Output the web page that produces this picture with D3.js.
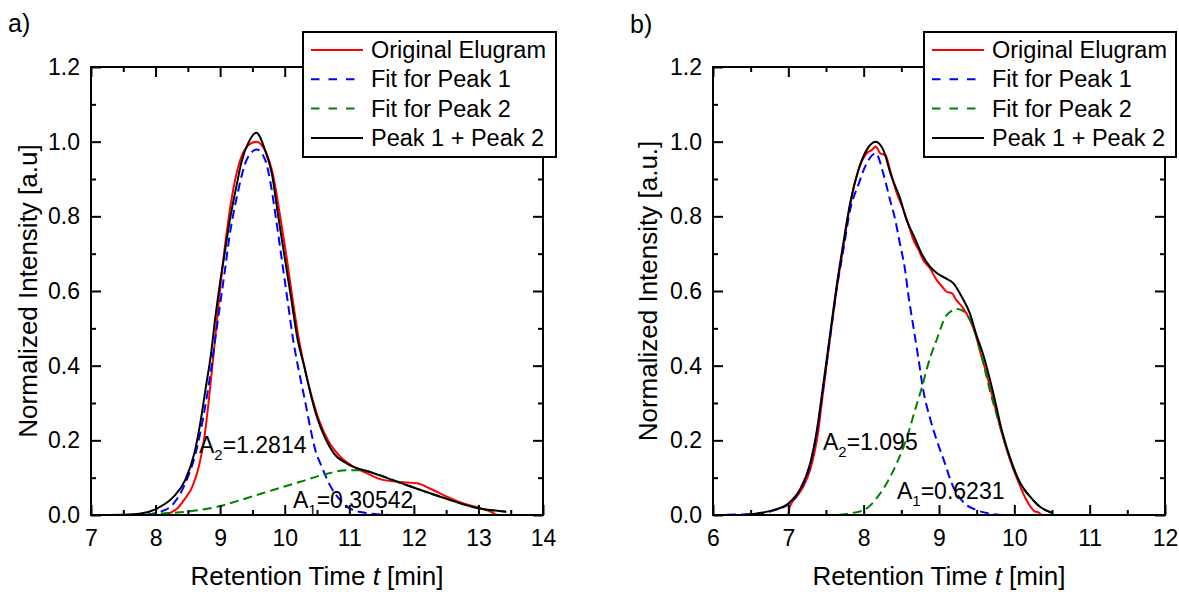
<!DOCTYPE html>
<html>
<head>
<meta charset="utf-8">
<script src="https://cdn.jsdelivr.net/npm/d3@7"></script>
<style>
  html, body { margin: 0; padding: 0; background: #fff; }
  svg { display: block; font-family: "Liberation Sans", Arial, sans-serif; }
</style>
</head>
<body>
<svg id="chart" width="1179" height="592"></svg>
<script>
// ---------------- DATA ----------------
// Panel a) : [retention time (min), normalized intensity]
const aOriginal = [[7.95,0],[8.13,0],[8.23,0.006],[8.34,0.018],[8.44,0.040],[8.57,0.076],[8.67,0.129],[8.75,0.201],[8.82,0.30],[8.88,0.40],[8.95,0.52],[9.02,0.64],[9.10,0.755],[9.19,0.86],[9.30,0.945],[9.43,0.99],[9.56,1.0],[9.70,0.975],[9.82,0.91],[9.93,0.80],[10.03,0.69],[10.12,0.58],[10.22,0.47],[10.32,0.385],[10.43,0.31],[10.54,0.25],[10.67,0.20],[10.86,0.156],[11.07,0.129],[11.27,0.112],[11.48,0.096],[11.74,0.089],[12.05,0.085],[12.25,0.071],[12.51,0.049],[12.77,0.031],[13.0,0.020],[13.2,0.008],[13.3,0],[13.45,0]];
const aPeak1 = [[7.0,0],[7.77,0],[8.08,0.009],[8.28,0.031],[8.46,0.085],[8.62,0.165],[8.75,0.272],[8.85,0.379],[8.95,0.504],[9.06,0.638],[9.16,0.763],[9.26,0.853],[9.42,0.955],[9.57,0.979],[9.70,0.95],[9.78,0.89],[9.86,0.80],[9.95,0.69],[10.04,0.58],[10.13,0.47],[10.22,0.385],[10.31,0.31],[10.40,0.23],[10.48,0.17],[10.56,0.135],[10.70,0.08],[10.86,0.040],[11.06,0.013],[11.38,0.003],[11.69,0],[13.45,0]];
const aPeak2 = [[7.0,0],[7.8,0],[8.0,0.003],[8.49,0.009],[8.95,0.022],[9.41,0.045],[9.82,0.067],[10.24,0.089],[10.6,0.108],[10.96,0.12],[11.2,0.12],[11.38,0.112],[11.89,0.080],[12.41,0.049],[13.0,0.018],[13.43,0.009]];
const aSum = [[7.0,0],[7.5,0.001],[7.77,0.004],[8.03,0.018],[8.28,0.049],[8.46,0.094],[8.60,0.165],[8.70,0.254],[8.78,0.344],[8.86,0.433],[8.92,0.522],[8.99,0.612],[9.07,0.701],[9.15,0.790],[9.25,0.879],[9.33,0.945],[9.44,0.998],[9.56,1.024],[9.70,0.975],[9.80,0.915],[9.90,0.80],[10.0,0.69],[10.1,0.58],[10.2,0.47],[10.3,0.40],[10.4,0.325],[10.5,0.262],[10.63,0.205],[10.76,0.165],[10.96,0.138],[11.38,0.112],[11.89,0.080],[12.41,0.049],[13.0,0.018],[13.43,0.009]];

// Panel b)
const bOriginal = [[7.0,0],[7.02,0.022],[7.11,0.049],[7.2,0.076],[7.29,0.121],[7.38,0.201],[7.46,0.326],[7.55,0.469],[7.64,0.603],[7.73,0.719],[7.82,0.830],[7.93,0.924],[8.04,0.969],[8.11,0.978],[8.16,0.987],[8.22,0.969],[8.29,0.964],[8.35,0.924],[8.44,0.862],[8.53,0.817],[8.59,0.781],[8.66,0.737],[8.73,0.71],[8.79,0.683],[8.88,0.661],[8.97,0.629],[9.04,0.612],[9.10,0.598],[9.17,0.594],[9.23,0.576],[9.32,0.554],[9.41,0.522],[9.48,0.487],[9.54,0.442],[9.63,0.379],[9.72,0.308],[9.81,0.237],[9.90,0.174],[9.99,0.121],[10.08,0.076],[10.16,0.040],[10.23,0.018],[10.27,0.01],[10.32,0.007],[10.36,0]];
const bPeak1 = [[6.0,0],[6.58,0.003],[6.80,0.012],[7.0,0.029],[7.15,0.065],[7.29,0.134],[7.38,0.223],[7.46,0.335],[7.55,0.469],[7.64,0.603],[7.73,0.71],[7.82,0.817],[7.93,0.885],[8.04,0.942],[8.16,0.969],[8.26,0.915],[8.35,0.844],[8.42,0.79],[8.48,0.728],[8.55,0.656],[8.59,0.594],[8.66,0.504],[8.73,0.415],[8.79,0.335],[8.88,0.26],[8.97,0.2],[9.05,0.155],[9.19,0.075],[9.32,0.035],[9.5,0.013],[9.7,0.003],[9.85,0],[10.5,0]];
const bPeak2 = [[6.0,0],[7.6,0],[7.8,0.004],[8.0,0.013],[8.22,0.058],[8.44,0.139],[8.57,0.205],[8.68,0.28],[8.77,0.34],[8.88,0.42],[8.97,0.47],[9.1,0.535],[9.25,0.552],[9.41,0.525],[9.54,0.445],[9.68,0.33],[9.83,0.225],[9.94,0.152],[10.08,0.084],[10.21,0.048],[10.34,0.022],[10.5,0.006]];
const bSum = [[6.0,0],[6.36,0],[6.58,0.004],[6.80,0.013],[7.0,0.031],[7.15,0.067],[7.29,0.138],[7.38,0.228],[7.46,0.344],[7.55,0.478],[7.64,0.612],[7.73,0.728],[7.82,0.835],[7.93,0.924],[8.04,0.978],[8.16,1.0],[8.26,0.978],[8.37,0.906],[8.48,0.85],[8.57,0.79],[8.66,0.75],[8.77,0.70],[8.88,0.665],[8.97,0.648],[9.08,0.635],[9.19,0.621],[9.30,0.585],[9.41,0.54],[9.50,0.48],[9.58,0.434],[9.72,0.327],[9.83,0.23],[9.94,0.155],[10.08,0.085],[10.21,0.049],[10.34,0.022],[10.5,0.006]];

// Axes / ticks / labels
const aXDomain = [7, 14];
const bXDomain = [6, 12];
const yDomain = [0, 1.2];
const aXTicks = [7, 8, 9, 10, 11, 12, 13, 14];
const bXTicks = [6, 7, 8, 9, 10, 11, 12];
const yTicks = [0, 0.2, 0.4, 0.6, 0.8, 1.0, 1.2];
const legendLabels = ["Original Elugram", "Fit for Peak 1", "Fit for Peak 2", "Peak 1 + Peak 2"];
const xTitle = "Retention Time ";
const aYTitle = "Normalized Intensity [a.u]";
const bYTitle = "Normalized Intensity [a.u.]";
const aAreas = { a2: "1.2814", a1: "0.30542" };
const bAreas = { a2: "1.095", a1: "0.6231" };

// ---------------- DRAW ----------------
const svg = d3.select("#chart");
const FONT = "'Liberation Sans', Arial, sans-serif";

const seriesStyle = [
  { color: "#ff0000", dash: null, legendDash: null },
  { color: "#0000ff", dash: "9,5", legendDash: "8.5,9" },
  { color: "#008000", dash: "9,5", legendDash: "8.5,9" },
  { color: "#000000", dash: null, legendDash: null }
];

function range(a, b, step) {
  const out = [];
  for (let v = a; v <= b + 1e-9; v += step) out.push(+v.toFixed(4));
  return out;
}

function drawPanel(cfg) {
  const { left, top, width, height, xDomain, xTicks, series, yTitle, yTitleX,
          panelLabel, labelPos, legend, areas } = cfg;
  const g = svg.append("g");
  const x = d3.scaleLinear().domain(xDomain).range([left, left + width]);
  const y = d3.scaleLinear().domain(yDomain).range([top + height, top]);

  // curves
  const line = d3.line().x(d => x(d[0])).y(d => y(d[1])).curve(d3.curveMonotoneX);
  const clipId = "clip" + left;
  svg.append("clipPath").attr("id", clipId).append("rect")
    .attr("x", left).attr("y", top).attr("width", width).attr("height", height);
  [0, 1, 2, 3].forEach(i => {
    g.append("path").datum(series[i])
      .attr("clip-path", `url(#${clipId})`)
      .attr("d", line)
      .attr("fill", "none")
      .attr("stroke", seriesStyle[i].color)
      .attr("stroke-width", 2)
      .attr("stroke-dasharray", seriesStyle[i].dash);
  });

  // minor ticks
  const xMinor = range(xDomain[0], xDomain[1], 0.5).filter(v => !xTicks.includes(v));
  const yMinor = range(0, 1.2, 0.1).filter(v => !yTicks.some(t => Math.abs(t - v) < 1e-6));

  function styleAxis(sel) {
    sel.select(".domain").remove();
    sel.selectAll(".tick line").attr("stroke", "#000").attr("stroke-width", 2);
    sel.selectAll("text").attr("font-family", FONT).attr("font-size", 23).attr("fill", "#000");
  }

  // bottom
  g.append("g").attr("transform", `translate(0,${top + height})`)
    .call(d3.axisBottom(x).tickValues(xTicks).tickSize(-10).tickPadding(15).tickFormat(d3.format("d")))
    .call(styleAxis);
  g.append("g").attr("transform", `translate(0,${top + height})`)
    .call(d3.axisBottom(x).tickValues(xMinor).tickSize(-5).tickFormat(""))
    .call(styleAxis);
  // top
  g.append("g").attr("transform", `translate(0,${top})`)
    .call(d3.axisTop(x).tickValues(xTicks).tickSize(-10).tickFormat(""))
    .call(styleAxis);
  g.append("g").attr("transform", `translate(0,${top})`)
    .call(d3.axisTop(x).tickValues(xMinor).tickSize(-5).tickFormat(""))
    .call(styleAxis);
  // left
  g.append("g").attr("transform", `translate(${left},0)`)
    .call(d3.axisLeft(y).tickValues(yTicks).tickSize(-10).tickPadding(11).tickFormat(d3.format(".1f")))
    .call(styleAxis);
  g.append("g").attr("transform", `translate(${left},0)`)
    .call(d3.axisLeft(y).tickValues(yMinor).tickSize(-5).tickFormat(""))
    .call(styleAxis);
  // right
  g.append("g").attr("transform", `translate(${left + width},0)`)
    .call(d3.axisRight(y).tickValues(yTicks).tickSize(-10).tickFormat(""))
    .call(styleAxis);
  g.append("g").attr("transform", `translate(${left + width},0)`)
    .call(d3.axisRight(y).tickValues(yMinor).tickSize(-5).tickFormat(""))
    .call(styleAxis);

  // frame
  g.append("rect").attr("x", left).attr("y", top).attr("width", width).attr("height", height)
    .attr("fill", "none").attr("stroke", "#000").attr("stroke-width", 2);

  // axis titles
  const xt = g.append("text").attr("x", left + width / 2).attr("y", 585)
    .attr("text-anchor", "middle").attr("font-family", FONT).attr("font-size", 26);
  xt.append("tspan").text(xTitle);
  xt.append("tspan").attr("font-style", "italic").text("t");
  xt.append("tspan").text(" [min]");

  g.append("text")
    .attr("transform", `translate(${yTitleX},${top + height / 2}) rotate(-90)`)
    .attr("text-anchor", "middle").attr("font-family", FONT).attr("font-size", 26)
    .text(yTitle);

  // panel label
  g.append("text").attr("x", labelPos[0]).attr("y", labelPos[1])
    .attr("font-family", FONT).attr("font-size", 25).text(panelLabel);

  // area annotations
  function areaLabel(px, py, sub, val) {
    const t = g.append("text").attr("x", px).attr("y", py)
      .attr("font-family", FONT).attr("font-size", 23);
    t.append("tspan").text("A");
    t.append("tspan").attr("font-size", 15).attr("dy", 7).text(sub);
    t.append("tspan").attr("dy", -7).text("=" + val);
  }
  areaLabel(areas.a2pos[0], areas.a2pos[1], "2", areas.a2);
  areaLabel(areas.a1pos[0], areas.a1pos[1], "1", areas.a1);

  // legend
  const lg = g.append("g");
  lg.append("rect").attr("x", legend.x).attr("y", legend.y).attr("width", legend.w).attr("height", legend.h)
    .attr("fill", "#fff").attr("stroke", "#000").attr("stroke-width", 2);
  legendLabels.forEach((lab, i) => {
    const cy = legend.y + 18 + i * 29.3;
    lg.append("line").attr("x1", legend.x + 8).attr("x2", legend.x + 60)
      .attr("y1", cy).attr("y2", cy)
      .attr("stroke", seriesStyle[i].color).attr("stroke-width", 2)
      .attr("stroke-dasharray", seriesStyle[i].legendDash);
    lg.append("text").attr("x", legend.x + 68).attr("y", cy + 8)
      .attr("font-family", FONT).attr("font-size", 23.5).text(lab);
  });
}

drawPanel({
  left: 91, top: 67, width: 452, height: 448,
  xDomain: aXDomain, xTicks: aXTicks,
  series: [aOriginal, aPeak1, aPeak2, aSum],
  yTitle: aYTitle, yTitleX: 37,
  panelLabel: "a)", labelPos: [8, 32],
  legend: { x: 303, y: 32, w: 253, h: 125 },
  areas: { a2: aAreas.a2, a1: aAreas.a1, a2pos: [199, 453], a1pos: [293, 508] }
});

drawPanel({
  left: 713, top: 67, width: 452, height: 448,
  xDomain: bXDomain, xTicks: bXTicks,
  series: [bOriginal, bPeak1, bPeak2, bSum],
  yTitle: bYTitle, yTitleX: 657,
  panelLabel: "b)", labelPos: [630, 33],
  legend: { x: 924, y: 32, w: 252, h: 125 },
  areas: { a2: bAreas.a2, a1: bAreas.a1, a2pos: [823, 450], a1pos: [897, 499] }
});
</script>
</body>
</html>
